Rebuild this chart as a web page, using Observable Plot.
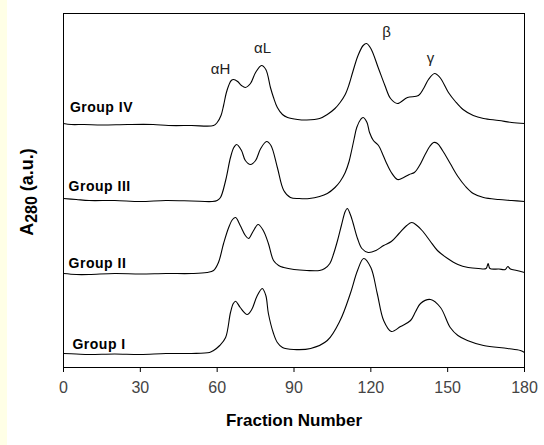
<!DOCTYPE html>
<html>
<head>
<meta charset="utf-8">
<script src="https://cdn.jsdelivr.net/npm/d3@7"></script>
<script src="https://cdn.jsdelivr.net/npm/@observablehq/plot@0.6"></script>
<style>
  html, body { margin: 0; padding: 0; background: #fff; }
  #stripe { position: absolute; left: 0; top: 0; width: 7px; height: 445px; background: #FFFFE6; }
  #chart { position: absolute; left: 0; top: 0; }
</style>
</head>
<body>
<div id="stripe"></div>
<div id="chart"></div>
<script>
// Stacked elution profiles (A280, arbitrary units, offset per group) vs fraction number
const groupIV = [[0,244],[3,243],[8,243],[15,242.5],[25,243],[35,243],[41,242],[50,242],[58.6,242],[60,245],[61.5,252],[62.5,262],[63.5,274],[64.5,282],[65.5,287],[66.4,288],[68,286],[69.5,282],[71,280],[73,284],[75,295],[77.3,302],[79,298],[80.8,280],[82,270],[83.5,260],[85.5,253],[87.5,250],[91.4,248],[95,247.5],[100,249],[103,253],[106,259],[108,265],[110,273],[111.5,283],[113,296],[115,312],[117,322],[118.3,324],[120,319],[123,299],[125.5,282],[127.7,269],[130.4,264],[134.3,270],[138.6,272],[140.6,279],[142.5,288],[144.9,294],[147,290],[150.3,275],[153,266],[156,258],[160,252],[164,249],[170,247],[175,245],[180,244]];
const groupIII = [[0,169],[5,168],[10,167],[20,167],[30,166],[40,167],[50,166.5],[58,166],[60,167],[61.3,170],[63.3,187],[65.2,210],[66.5,220],[67.6,223],[69.5,217],[71,207],[73,203],[75,207],[77,219],[79.3,226],[81,222],[83.5,200],[86,177],[88.6,170],[92,169],[96,169],[100,171],[103,174],[106,180],[108,186],[110,195],[111.5,206],[112.5,217],[113.5,229],[114.5,240],[116,248],[117,250],[118.5,245],[119.5,235],[121,227],[123,222],[124.5,214],[126,205],[128,195],[130.4,188],[132,189],[135,193],[137,195],[139,202],[141,212],[143,221],[144.5,225],[146,224],[148,217],[151,204],[154,191],[157,181],[160,174],[164,170],[170,168],[175,167],[180,166]];
const groupII = [[0,94],[5,93],[10,93],[20,94],[30,93.5],[40,94],[50,94],[56,95],[58.6,97],[60.5,105],[62.5,124],[64.5,140],[66,148],[67.2,150],[69,142],[71,132],[72.3,129],[74,136],[76,143],[78,137],[80,124],[82,107],[84,102],[86,100],[90,98],[95,97],[100,97],[102,99],[104,104],[105.5,114],[107,127],[108.5,142],[110,156],[110.8,159],[112,153],[113,145],[114.8,129],[116.5,119],[119,115],[122,117],[125,122],[128,126],[131,134],[134,142],[136,145],[138,142],[140,137],[143,127],[146,117],[150,109],[154,103],[158,100],[162,99],[165,99],[165.8,104],[166.5,99],[170,98.5],[172.5,98],[173.5,101],[174.5,98.5],[177,97],[180,95]];
const groupI = [[0,14],[5,13.5],[10,13],[20,13.5],[30,13],[40,14],[50,14],[57,15],[58.6,17],[61,22],[63.3,30],[65.2,55],[66.3,64],[67.2,66.3],[69,60],[71.7,53],[73.5,58],[75.5,71],[77.6,79],[79,72],[80,54],[82,34],[83.5,25],[85.5,20],[89.9,18],[96.5,19],[103,27],[108,47],[112,74],[114.8,97],[117.2,109],[120,100],[122.5,74],[125,47],[128,36],[131.6,41],[135.5,47],[137.5,56],[139.4,64],[143.3,68],[147.2,60],[151,40],[154,32],[157.7,27],[164,22],[173.4,19],[178.4,17],[180,15]];

const groups = [
  {name: "Group IV", data: groupIV, labelX: 2.5, labelY: 260},
  {name: "Group III", data: groupIII, labelX: 2, labelY: 181},
  {name: "Group II", data: groupII, labelX: 2, labelY: 104},
  {name: "Group I", data: groupI, labelX: 3.5, labelY: 23}
];
const peakLabels = [
  {text: "\u03b1H", f: 61.3, v: 298},
  {text: "\u03b1L", f: 77.7, v: 319},
  {text: "\u03b2", f: 126.1, v: 335},
  {text: "\u03b3", f: 143.3, v: 309}
];
const xTicks = [0, 30, 60, 90, 120, 150, 180];

const rows = groups.flatMap(g => g.data.map(([f, v]) => ({group: g.name, f, v})));

const plot = Plot.plot({
  width: 544,
  height: 445,
  marginLeft: 63,
  marginRight: 20,
  marginTop: 13,
  marginBottom: 78,
  style: {background: "transparent", fontFamily: "Liberation Sans, Arial, sans-serif"},
  x: {domain: [0, 180]},
  y: {domain: [0, 354]},
  marks: [
    Plot.frame({stroke: "#000", strokeWidth: 1}),
    Plot.axisX({ticks: xTicks, tickSize: 5, tickPadding: 9, fontSize: 16, label: null, color: "#000", fill: "#444"}),
    Plot.axisY({ticks: [], label: null, tickSize: 0}),
    Plot.line(rows, {x: "f", y: "v", z: "group", stroke: "#000", strokeWidth: 1.1, curve: "catmull-rom"}),
    Plot.text(groups, {x: "labelX", y: "labelY", text: "name", textAnchor: "start", fontWeight: "bold", fontSize: 14, fill: "#000"}),
    Plot.text(peakLabels, {x: "f", y: "v", text: "text", fontSize: 15, fill: "#222"}),
    Plot.text(["Fraction Number"], {frameAnchor: "bottom", dy: 58, fontWeight: "bold", fontSize: 17, fill: "#000"})
  ]
});
document.getElementById("chart").appendChild(plot);
d3.select(plot).selectAll("text").filter(function() { return /^Group/.test(this.textContent); }).style("letter-spacing", "0.5px");

// Y-axis title with subscript
const svg = d3.select(plot);
const yl = svg.append("text")
  .attr("transform", "translate(33,192) rotate(-90)")
  .attr("text-anchor", "middle")
  .attr("font-family", "Liberation Sans, Arial, sans-serif")
  .attr("font-weight", "bold")
  .attr("font-size", 18)
  .attr("fill", "#000");
yl.append("tspan").text("A");
yl.append("tspan").attr("dy", 4).attr("font-size", 16).text("280");
yl.append("tspan").attr("dy", -4).text(" (a.u.)");
</script>
</body>
</html>
